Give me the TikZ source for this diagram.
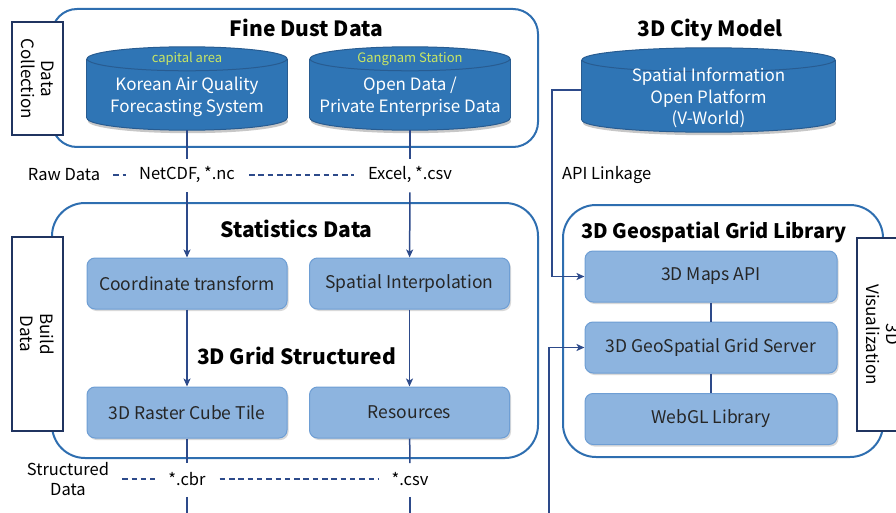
\documentclass[tikz,border=0pt]{standalone}
\usepackage{fontspec}
\setmainfont{Noto Sans CJK KR}
\usepackage{tikz}
\usetikzlibrary{shapes,shapes.geometric,shadows,arrows.meta,positioning}

\definecolor{framebl}{RGB}{46,110,176}
\definecolor{navy}{RGB}{32,52,96}
\definecolor{linkbl}{RGB}{45,74,138}
\definecolor{cylfill}{RGB}{47,117,181}
\definecolor{cylline}{RGB}{40,92,145}
\definecolor{boxfill}{RGB}{141,180,223}
\definecolor{boxline}{RGB}{110,158,212}
\definecolor{areagreen}{RGB}{200,230,100}

% database drum around a named node: #1 node, #2 half width
\newcommand{\drawstore}[2]{%
    \fill[black, opacity=0.22] ([xshift=1pt, yshift=9pt]#1.south) ellipse [x radius=#2, y radius=12pt];
    \path[draw=cylline, fill=cylfill, line width=1pt] ([yshift=12pt]#1.south) ellipse [x radius=#2, y radius=12pt];
    \fill[cylfill] ([yshift=-12pt]#1.north west) rectangle ([yshift=12pt]#1.south east);
    \draw[cylline, line width=1pt] ([yshift=-12pt]#1.north west) -- ([yshift=12pt]#1.south west);
    \draw[cylline, line width=1pt] ([yshift=-12pt]#1.north east) -- ([yshift=12pt]#1.south east);
    \path[draw=cylline, fill=cylfill, line width=1pt] ([yshift=-12pt]#1.north) ellipse [x radius=#2, y radius=12pt];
}

\begin{document}
\begin{tikzpicture}[x=1pt, y=-1pt]
        \tikzstyle{every node} = [align=center, inner sep=3pt]
        \tikzstyle{group} = [draw=framebl, line width=2pt, rounded corners=33pt, inner sep=0pt]
        \tikzstyle{sidebox} = [draw=navy, line width=2pt, fill=white, rotate=-90, minimum height=51pt, inner sep=0pt, font=\fontsize{17}{20}\selectfont]
        \tikzstyle{store} = [rectangle, inner sep=0pt, minimum width=200pt, minimum height=83pt]
        \tikzstyle{storetext} = [text=white, font=\fontsize{17}{22}\selectfont, anchor=base]
        \tikzstyle{areatext} = [text=areagreen, font=\fontsize{13}{15}\selectfont, anchor=base]
        \tikzstyle{proc} = [rectangle, rounded corners=8pt, draw=boxline, line width=1pt, fill=boxfill, minimum width=200pt, minimum height=51pt, text=black!85, font=\fontsize{17.5}{20}\selectfont, drop shadow={shadow xshift=1.5pt, shadow yshift=-2pt, opacity=0.3}]
        \tikzstyle{heading} = [font=\bfseries\fontsize{21}{24}\selectfont, anchor=base]
        \tikzstyle{fmt} = [font=\fontsize{16.5}{20}\selectfont]
        \tikzstyle{fmtdash} = [draw=linkbl, line width=2pt, dash pattern=on 5.5pt off 3.8pt]
        \tikzstyle{link} = [draw=linkbl, line width=1.5pt]
        \tikzstyle{arr} = [-{Stealth[length=8pt, width=7pt, inset=2pt]}]

        \useasboundingbox (0,0) rectangle (896,513);
        \clip (0,0) rectangle (896,513);

        \node[group, rounded corners=25pt, minimum width=486pt, minimum height=138pt](dustgroup) at (295,78){};
        \node[group, minimum width=486pt, minimum height=255pt](statgroup) at (295,330.5){};
        \node[group, minimum width=320pt, minimum height=252pt](geogroup) at (723,331){};

        \node[sidebox, minimum width=113pt](collect) at (37.5,78.5){Data\\Collection};
        \node[sidebox, minimum width=194pt](build) at (37.5,334){Build\\Data};
        \node[sidebox, minimum width=193pt](visual) at (882.5,334.5){3D\\Visualization};

        \node[heading](dusttitle) at (306.5,37){Fine Dust Data};
        \node[heading](citytitle) at (710,37){3D City Model};
        \node[heading](stattitle) at (296.5,237){Statistics Data};
        \node[heading](gridtitle) at (296.5,364){3D Grid Structured};
        \node[heading, font=\bfseries\fontsize{20}{24}\selectfont](geotitle) at (714,238){3D Geospatial Grid Library};

        \node[store](kaq) at (187,88.5){};
        \node[store](open) at (410,88.5){};
        \node[store, minimum width=253pt, minimum height=84pt](vworld) at (708.5,90){};
        \drawstore{kaq}{100pt}
        \drawstore{open}{100pt}
        \drawstore{vworld}{126.5pt}
        \node[areatext](kaqarea) at (187,63){capital area};
        \node[areatext](openarea) at (410,63){Gangnam Station};
        \node[storetext](kaqtext) at (187,113){Korean Air Quality\\Forecasting System};
        \node[storetext](opentext) at (410,113){Open Data /\\Private Enterprise Data};
        \node[storetext, font=\fontsize{17}{21.5}\selectfont](vworldtext) at (708.5,125){Spatial Information\\Open Platform\\(V-World)};

        \node[proc](coord) at (187,283.5){Coordinate transform};
        \node[proc](interp) at (409.5,283.5){Spatial Interpolation};
        \node[proc](raster) at (187,412.5){3D Raster Cube Tile};
        \node[proc](resources) at (409.5,412.5){Resources};
        \node[proc, minimum width=252pt](mapsapi) at (711,276.5){3D Maps API};
        \node[proc, minimum width=252pt](gridserver) at (711,347.5){3D GeoSpatial Grid Server};
        \node[proc, minimum width=252pt](webgl) at (711,419){WebGL Library};

        \node[fmt](raw) at (64,175){Raw Data};
        \node[fmt](netcdf) at (187,175){NetCDF, *.nc};
        \node[fmt](excel) at (410,175){Excel, *.csv};
        \node[fmt, anchor=west](api) at (559,175){API Linkage};
        \node[fmt](structured) at (68,479){Structured\\Data};
        \node[fmt](cbr) at (187,479){*.cbr};
        \node[fmt](csv) at (410,479){*.csv};

        \coordinate(cbrout) at (187,520);
        \coordinate(csvout) at (410,520);
        \coordinate(feedin) at (549,520);

        \path[fmtdash, shorten <=10pt, shorten >=10pt] (raw) edge (netcdf);
        \path[fmtdash, shorten <=11pt, shorten >=11pt] (netcdf) edge (excel);
        \path[fmtdash, shorten <=10pt, shorten >=10pt] (structured.east) edge (cbr);
        \path[fmtdash, shorten <=11pt, shorten >=9pt] (cbr) edge (csv);

        \path[link, shorten >=5pt] (kaq.south) edge (netcdf);
        \path[link, shorten >=5pt] (open.south) edge (excel);
        \path[link, arr, shorten <=6pt] (netcdf) edge (coord);
        \path[link, arr, shorten <=6pt] (excel) edge (interp);
        \path[link, arr] (coord) edge (raster);
        \path[link, arr] (interp) edge (resources);
        \path[link, shorten >=6pt] (raster) edge (cbr);
        \path[link, shorten >=6pt] (resources) edge (csv);
        \path[link, shorten <=8pt] (cbr) edge (cbrout);
        \path[link, shorten <=8pt] (csv) edge (csvout);
        \path[link] (mapsapi) edge (gridserver);
        \path[link] (gridserver) edge (webgl);

        \draw[link, arr] (vworld.west) -- ++(-30,0) |- (mapsapi.west);
        \draw[link, arr] (feedin) |- (gridserver.west);
    \end{tikzpicture}
\end{document}
